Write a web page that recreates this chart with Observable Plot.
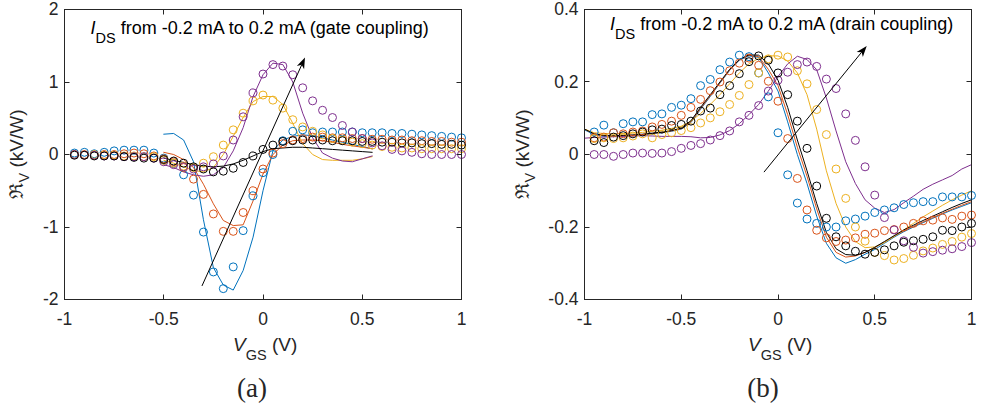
<!DOCTYPE html>
<html><head><meta charset="utf-8">
<script src="https://cdn.jsdelivr.net/npm/d3@7"></script>
<script src="https://cdn.jsdelivr.net/npm/@observablehq/plot@0.6"></script>
<style>
body{margin:0;background:#fff;}
#fig{position:relative;width:981px;height:406px;overflow:hidden;background:#fff;}
</style></head><body><div id="fig"></div>
<script>
// ---------- tick values ----------
const xTicks = [-1, -0.5, 0, 0.5, 1];
const yTicksA = [-2, -1, 0, 1, 2];
const yTicksB = [-0.4, -0.2, 0, 0.2, 0.4];

// ---------- series (I_DS from -0.2 mA to 0.2 mA) ----------
const seriesNames = ["-0.2 mA", "-0.1 mA", "0.1 mA", "0.2 mA", "0 mA"];
const seriesColors = ["#0072BD", "#D95319", "#EDB120", "#7E2F8E", "#000000"];

// V_GS of measured points (circles)
const vDots = [-0.95,-0.9,-0.85,-0.8,-0.75,-0.7,-0.65,-0.6,-0.55,-0.5,-0.45,-0.4,-0.35,-0.3,-0.25,-0.2,-0.15,-0.1,-0.05,0,0.05,0.1,0.15,0.2,0.25,0.3,0.35,0.4,0.45,0.5,0.55,0.6,0.65,0.7,0.75,0.8,0.85,0.9,0.95,1];
// V_GS of model curves
const vLineA = [-0.5,-0.45,-0.4,-0.35,-0.3,-0.25,-0.2,-0.15,-0.1,-0.05,0,0.05,0.1,0.15,0.2,0.25,0.3,0.35,0.4,0.45,0.5,0.55];
const vLineB = [-1,-0.95,-0.9,-0.85,-0.8,-0.75,-0.7,-0.65,-0.6,-0.55,-0.5,-0.45,-0.4,-0.35,-0.3,-0.25,-0.2,-0.15,-0.1,-0.05,0,0.05,0.1,0.15,0.2,0.25,0.3,0.35,0.4,0.45,0.5,0.55,0.6,0.65,0.7,0.75,0.8,0.85,0.9,0.95,1];

// Panel (a) gate coupling, measured (kV/W)
const aBlueDots   = [0.02,0.03,0.01,0.03,0.05,0.06,0.06,0.06,0.02,-0.05,-0.12,-0.28,-0.56,-1.07,-1.62,-1.85,-1.55,-1.05,-0.57,-0.25,0.0,0.19,0.32,0.34,0.3,0.31,0.31,0.31,0.31,0.3,0.3,0.3,0.29,0.29,0.28,0.27,0.26,0.25,0.24,0.23];
const aOrangeDots = [0.0,0.0,-0.01,0.0,0.0,0.01,0.02,0.01,-0.02,-0.06,-0.1,-0.18,-0.34,-0.55,-0.82,-1.06,-1.06,-0.8,-0.5,-0.2,0.02,0.15,0.2,0.22,0.24,0.24,0.23,0.23,0.22,0.22,0.21,0.21,0.2,0.2,0.19,0.19,0.18,0.18,0.17,0.17];
const aYellowDots = [0.0,-0.01,0.0,-0.01,-0.01,-0.02,-0.02,-0.03,-0.03,-0.08,-0.12,-0.16,-0.18,-0.12,-0.03,0.13,0.34,0.57,0.74,0.82,0.75,0.64,0.48,0.38,0.32,0.27,0.22,0.2,0.17,0.15,0.13,0.11,0.1,0.09,0.09,0.08,0.08,0.08,0.08,0.08];
const aPurpleDots = [0.0,-0.01,-0.01,-0.02,-0.02,-0.03,-0.03,-0.03,-0.05,-0.1,-0.14,-0.17,-0.2,-0.17,-0.13,-0.02,0.2,0.52,0.85,1.11,1.24,1.22,1.1,0.92,0.74,0.61,0.51,0.4,0.31,0.22,0.16,0.12,0.07,0.05,0.03,0.01,0.0,0.0,0.0,0.0];
const aBlackDots  = [-0.01,-0.01,-0.02,-0.02,-0.02,-0.03,-0.04,-0.05,-0.05,-0.07,-0.09,-0.12,-0.17,-0.2,-0.24,-0.23,-0.19,-0.11,-0.02,0.07,0.13,0.18,0.19,0.2,0.2,0.2,0.19,0.19,0.19,0.18,0.18,0.17,0.17,0.16,0.16,0.15,0.15,0.14,0.14,0.13];
// Panel (a) model
const aBlueLine   = [0.28,0.29,0.2,-0.1,-0.9,-1.56,-1.8,-1.87,-1.6,-1.14,-0.5,0.05,0.2,0.25,0.27,0.26,0.23,0.2,0.17,0.14,0.11,0.08];
const aOrangeLine = [0.03,0.0,-0.07,-0.18,-0.41,-0.68,-0.91,-0.98,-0.97,-0.64,-0.27,0.0,0.13,0.19,0.2,0.2,0.19,0.17,0.14,0.12,0.1,0.08];
const aYellowLine = [-0.08,-0.12,-0.17,-0.22,-0.24,-0.18,0.0,0.25,0.51,0.73,0.8,0.8,0.69,0.43,0.15,0.0,-0.07,-0.08,-0.08,-0.08,-0.06,-0.03];
const aPurpleLine = [-0.14,-0.18,-0.24,-0.28,-0.3,-0.28,-0.18,0.05,0.37,0.8,1.1,1.26,1.24,1.0,0.57,0.23,0.02,-0.05,-0.09,-0.1,-0.06,-0.02];
const aBlackLine  = [-0.05,-0.08,-0.11,-0.14,-0.16,-0.17,-0.16,-0.13,-0.08,-0.02,0.04,0.08,0.09,0.1,0.1,0.09,0.08,0.07,0.06,0.05,0.04,0.03];

// Panel (b) drain coupling, measured (kV/W)
const bBlueDots   = [0.062,0.081,0.06,0.085,0.09,0.09,0.11,0.112,0.13,0.136,0.154,0.19,0.207,0.234,0.255,0.274,0.27,0.225,0.159,0.06,-0.056,-0.134,-0.178,-0.19,-0.2,-0.2,-0.183,-0.178,-0.17,-0.16,-0.153,-0.147,-0.138,-0.133,-0.13,-0.13,-0.117,-0.117,-0.117,-0.113];
const bOrangeDots = [0.046,0.048,0.06,0.057,0.062,0.065,0.076,0.083,0.092,0.108,0.13,0.152,0.176,0.2,0.231,0.252,0.266,0.246,0.202,0.147,0.044,-0.066,-0.153,-0.209,-0.23,-0.24,-0.236,-0.23,-0.22,-0.217,-0.21,-0.207,-0.2,-0.19,-0.183,-0.181,-0.175,-0.179,-0.17,-0.167];
const bYellowDots = [0.044,0.046,0.044,0.046,0.051,0.057,0.046,0.055,0.06,0.066,0.074,0.087,0.101,0.118,0.138,0.163,0.193,0.225,0.264,0.274,0.269,0.231,0.195,0.124,0.055,-0.04,-0.121,-0.2,-0.239,-0.27,-0.279,-0.291,-0.287,-0.278,-0.266,-0.258,-0.248,-0.24,-0.228,-0.218];
const bPurpleDots = [0.0,0.0,-0.005,0.0,0.004,0.004,0.003,0.004,0.008,0.017,0.025,0.03,0.04,0.052,0.065,0.09,0.108,0.135,0.175,0.205,0.227,0.248,0.255,0.243,0.208,0.182,0.112,0.039,-0.034,-0.112,-0.174,-0.208,-0.238,-0.256,-0.272,-0.268,-0.264,-0.26,-0.254,-0.243];
const bBlackDots  = [0.038,0.033,0.048,0.052,0.057,0.062,0.068,0.07,0.08,0.083,0.092,0.12,0.128,0.165,0.19,0.223,0.256,0.272,0.26,0.225,0.165,0.092,0.017,-0.087,-0.176,-0.227,-0.252,-0.267,-0.275,-0.27,-0.263,-0.252,-0.242,-0.238,-0.234,-0.227,-0.209,-0.21,-0.2,-0.19];
// Panel (b) model
const bBlueLine   = [0.068,0.055,0.05,0.05,0.051,0.052,0.054,0.057,0.06,0.064,0.07,0.088,0.125,0.16,0.197,0.232,0.26,0.272,0.268,0.225,0.175,0.09,0.0,-0.08,-0.17,-0.245,-0.285,-0.3,-0.29,-0.275,-0.262,-0.245,-0.228,-0.213,-0.2,-0.188,-0.176,-0.164,-0.153,-0.143,-0.133];
const bOrangeLine = [0.07,0.056,0.052,0.051,0.052,0.053,0.055,0.058,0.061,0.065,0.071,0.09,0.127,0.162,0.198,0.233,0.261,0.274,0.27,0.235,0.19,0.11,0.02,-0.06,-0.15,-0.228,-0.27,-0.283,-0.28,-0.27,-0.257,-0.242,-0.226,-0.211,-0.198,-0.186,-0.174,-0.162,-0.151,-0.14,-0.13];
const bYellowLine = [0.07,0.06,0.058,0.057,0.058,0.059,0.061,0.064,0.067,0.072,0.078,0.092,0.113,0.138,0.165,0.195,0.225,0.25,0.265,0.272,0.272,0.258,0.225,0.165,0.07,-0.045,-0.135,-0.2,-0.24,-0.257,-0.255,-0.243,-0.226,-0.208,-0.19,-0.172,-0.156,-0.14,-0.125,-0.112,-0.1];
const bPurpleLine = [0.045,0.047,0.048,0.049,0.05,0.051,0.052,0.051,0.05,0.05,0.05,0.049,0.046,0.047,0.054,0.066,0.085,0.11,0.138,0.175,0.215,0.25,0.271,0.262,0.234,0.156,0.065,-0.02,-0.08,-0.125,-0.148,-0.16,-0.152,-0.133,-0.115,-0.096,-0.082,-0.07,-0.058,-0.04,-0.028];
const bBlackLine  = [0.07,0.057,0.053,0.052,0.053,0.054,0.056,0.059,0.062,0.066,0.073,0.093,0.13,0.165,0.2,0.235,0.262,0.275,0.274,0.25,0.205,0.13,0.04,-0.045,-0.135,-0.215,-0.26,-0.276,-0.278,-0.27,-0.256,-0.24,-0.224,-0.208,-0.195,-0.182,-0.17,-0.158,-0.146,-0.135,-0.125];

// annotation arrows (direction of increasing I_DS), in data units
const arrowA = [{x1: -0.305, y1: -1.82, x2: 0.214, y2: 1.33}];
const arrowB = [{x1: -0.07, y1: -0.05, x2: 0.461, y2: 0.298}];

// ---------- helpers ----------
const AX = "#262626";
const SANS = "'Liberation Sans', Arial, Helvetica, sans-serif";
const fmt = d => String(d);
const rows = (xs, ys) => xs.map((v, i) => ({v, r: ys[i]}));
const NS = "http://www.w3.org/2000/svg";

function insideTicks(xt, yt, len) {
  return function (index, scales, values, dims) {
    const {width, height, marginLeft, marginRight, marginTop, marginBottom} = dims;
    const l = marginLeft, r = width - marginRight, t = marginTop, b = height - marginBottom;
    let d = "";
    for (const v of xt) { const p = Math.round(scales.x(v)); d += `M${p},${b}V${b - len}M${p},${t}V${t + len}`; }
    for (const v of yt) { const p = Math.round(scales.y(v)); d += `M${l},${p}H${l + len}M${r},${p}H${r - len}`; }
    const path = document.createElementNS(NS, "path");
    path.setAttribute("d", d);
    path.setAttribute("stroke", AX);
    path.setAttribute("fill", "none");
    path.setAttribute("transform", "translate(0.5,0.5)");
    return path;
  };
}

function arrowMark(data) {
  return function (index, scales) {
    const g = document.createElementNS(NS, "g");
    for (const a of data) {
      const x1 = scales.x(a.x1), y1 = scales.y(a.y1), x2 = scales.x(a.x2), y2 = scales.y(a.y2);
      const dx = x2 - x1, dy = y2 - y1, L = Math.hypot(dx, dy);
      const ux = dx / L, uy = dy / L, px = -uy, py = ux;
      const hl = 11, hw = 4, notch = 3;
      const line = document.createElementNS(NS, "path");
      line.setAttribute("d", `M${x1},${y1}L${x2 - (hl - notch) * ux},${y2 - (hl - notch) * uy}`);
      line.setAttribute("stroke", "#000");
      line.setAttribute("stroke-width", "1");
      line.setAttribute("fill", "none");
      g.appendChild(line);
      const head = document.createElementNS(NS, "path");
      head.setAttribute("d",
        `M${x2},${y2}L${x2 - hl * ux + hw * px},${y2 - hl * uy + hw * py}` +
        `L${x2 - (hl - notch) * ux},${y2 - (hl - notch) * uy}` +
        `L${x2 - hl * ux - hw * px},${y2 - hl * uy - hw * py}Z`);
      head.setAttribute("fill", "#000");
      g.appendChild(head);
    }
    return g;
  };
}

function seriesMarks(vLine, lines, dots) {
  const marks = [];
  lines.forEach((ys, i) => marks.push(Plot.line(rows(vLine, ys), {x: "v", y: "r", stroke: seriesColors[i], strokeWidth: 1})));
  dots.forEach((ys, i) => marks.push(Plot.dot(rows(vDots, ys), {x: "v", y: "r", stroke: seriesColors[i], r: 4, strokeWidth: 1})));
  return marks;
}

function panel({width, marginLeft, marginRight, yDomain, yTicks, lines, dots, vLine, arrow}) {
  return Plot.plot({
    width, height: 406,
    marginLeft, marginRight, marginTop: 9, marginBottom: 107,
    style: {fontFamily: SANS, fontSize: "17.5px", color: AX, background: "transparent", overflow: "visible"},
    x: {domain: [-1, 1], ticks: xTicks, tickSize: 0, tickPadding: 13, tickFormat: fmt, label: null},
    y: {domain: yDomain, ticks: yTicks, tickSize: 0, tickPadding: 6, tickFormat: fmt, label: null},
    marks: [
      ...seriesMarks(vLine, lines, dots),
      arrowMark(arrow),
      Plot.frame({stroke: AX}),
      insideTicks(xTicks, yTicks, 5)
    ]
  });
}

const fig = document.getElementById("fig");

const pa = panel({
  width: 490, marginLeft: 64, marginRight: 29, yDomain: [-2, 2], yTicks: yTicksA, vLine: vLineA,
  lines: [aBlueLine, aOrangeLine, aYellowLine, aPurpleLine, aBlackLine],
  dots: [aBlueDots, aOrangeDots, aYellowDots, aPurpleDots, aBlackDots],
  arrow: arrowA
});
pa.style.position = "absolute"; pa.style.left = "0px"; pa.style.top = "0px";
fig.appendChild(pa);

const pb = panel({
  width: 491, marginLeft: 94, marginRight: 10, yDomain: [-0.4, 0.4], yTicks: yTicksB, vLine: vLineB,
  lines: [bBlueLine, bOrangeLine, bYellowLine, bPurpleLine, bBlackLine],
  dots: [bBlueDots, bOrangeDots, bYellowDots, bPurpleDots, bBlackDots],
  arrow: arrowB
});
pb.style.position = "absolute"; pb.style.left = "490px"; pb.style.top = "0px";
fig.appendChild(pb);

// ---------- text overlay ----------
const ov = d3.create("svg").attr("width", 981).attr("height", 406)
  .style("position", "absolute").style("left", "0px").style("top", "0px")
  .style("pointer-events", "none").style("overflow", "visible");
fig.appendChild(ov.node());

function addText(x, y, parts, {anchor = "start", rotate = 0, family = SANS, fill = AX} = {}) {
  const t = ov.append("text").attr("x", x).attr("y", y).attr("text-anchor", anchor)
    .attr("font-family", family).attr("fill", fill).style("white-space", "pre");
  if (rotate) t.attr("transform", `rotate(${rotate},${x},${y})`);
  for (const p of parts) {
    const s = t.append("tspan").attr("font-size", p.size).text(p.t);
    if (p.italic) s.attr("font-style", "italic");
    if (p.dy) s.attr("dy", p.dy);
  }
}

const annA = [{t: "I", size: 18, italic: true}, {t: "DS", size: 14.5, dy: 8.5}, {t: " from -0.2 mA to 0.2 mA (gate coupling)", size: 18, dy: -8.5}];
const annB = [{t: "I", size: 18, italic: true}, {t: "DS", size: 14.5, dy: 8.5}, {t: " from -0.2 mA to 0.2 mA (drain coupling)", size: 18, dy: -8.5}];
addText(90.5, 34, annA, {fill: "#000"});
addText(610, 30, annB, {fill: "#000"});

const xLab = [{t: "V", size: 19, italic: true}, {t: "GS", size: 14.5, dy: 8.5}, {t: " (V)", size: 19, dy: -8.5}];
addText(233, 351, xLab);
addText(748, 351, xLab);

const yLab = [{t: "\u211C", size: 19}, {t: "V", size: 14.5, dy: 6}, {t: " (kV/W)", size: 19, dy: -6}];
addText(23, 154, yLab, {anchor: "middle", rotate: -90});
addText(529, 154, yLab, {anchor: "middle", rotate: -90});

const SERIF = "'Liberation Serif', 'Times New Roman', serif";
addText(252, 397, [{t: "(a)", size: 27}], {anchor: "middle", family: SERIF});
addText(763, 397, [{t: "(b)", size: 27}], {anchor: "middle", family: SERIF});
</script></body></html>
